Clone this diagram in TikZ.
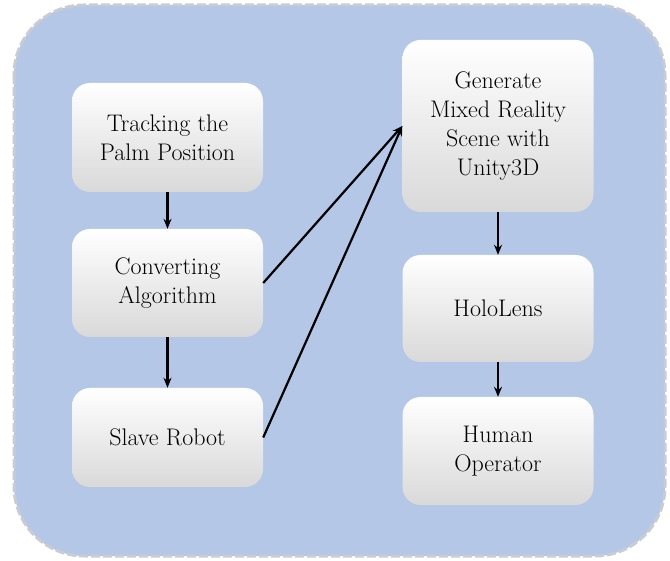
\documentclass[tikz,border=0pt]{standalone}
\usepackage{fontspec}
\usetikzlibrary{arrows.meta}
\definecolor{outerfill}{HTML}{B4C7E7}
\definecolor{outerline}{HTML}{C9CCD2}
\begin{document}
\begin{tikzpicture}[x=1pt,y=-1pt,
  box/.style={rounded corners=18pt, top color=white, bottom color=gray!30, draw=none,
    minimum width=191pt, inner sep=0pt, align=center,
    font=\rmfamily\fontsize{24}{29}\selectfont, text=black},
  arr/.style={line width=2.2pt, draw=black, -{Stealth[length=10pt,width=8pt]}}]
\useasboundingbox (0,0) rectangle (670,561);
\draw[fill=outerfill, draw=outerline, line width=3pt, dash pattern=on 9pt off 3pt,
  rounded corners=70pt] (14,5) rectangle (665,556);
\node[box, minimum height=109pt] (track) at (167.5,137.5) {Tracking the\\Palm Position};
\node[box, minimum height=108pt] (conv) at (167.5,283) {Converting\\Algorithm};
\node[box, minimum height=99pt] (slave) at (167.5,437.5) {Slave Robot};
\node[box, minimum height=172pt] (gen) at (498,126) {Generate\\Mixed Reality\\Scene with\\Unity3D};
\node[box, minimum height=107pt] (holo) at (498,308.5) {HoloLens};
\node[box, minimum height=108pt] (human) at (498,451) {Human\\Operator};
\draw[arr] (track) -- (conv);
\draw[arr] (conv) -- (slave);
\draw[arr] (gen) -- (holo);
\draw[arr] (holo) -- (human);
\draw[arr] (conv.east) -- (gen.west);
\draw[arr] (slave.east) -- (gen.west);
\end{tikzpicture}
\end{document}
